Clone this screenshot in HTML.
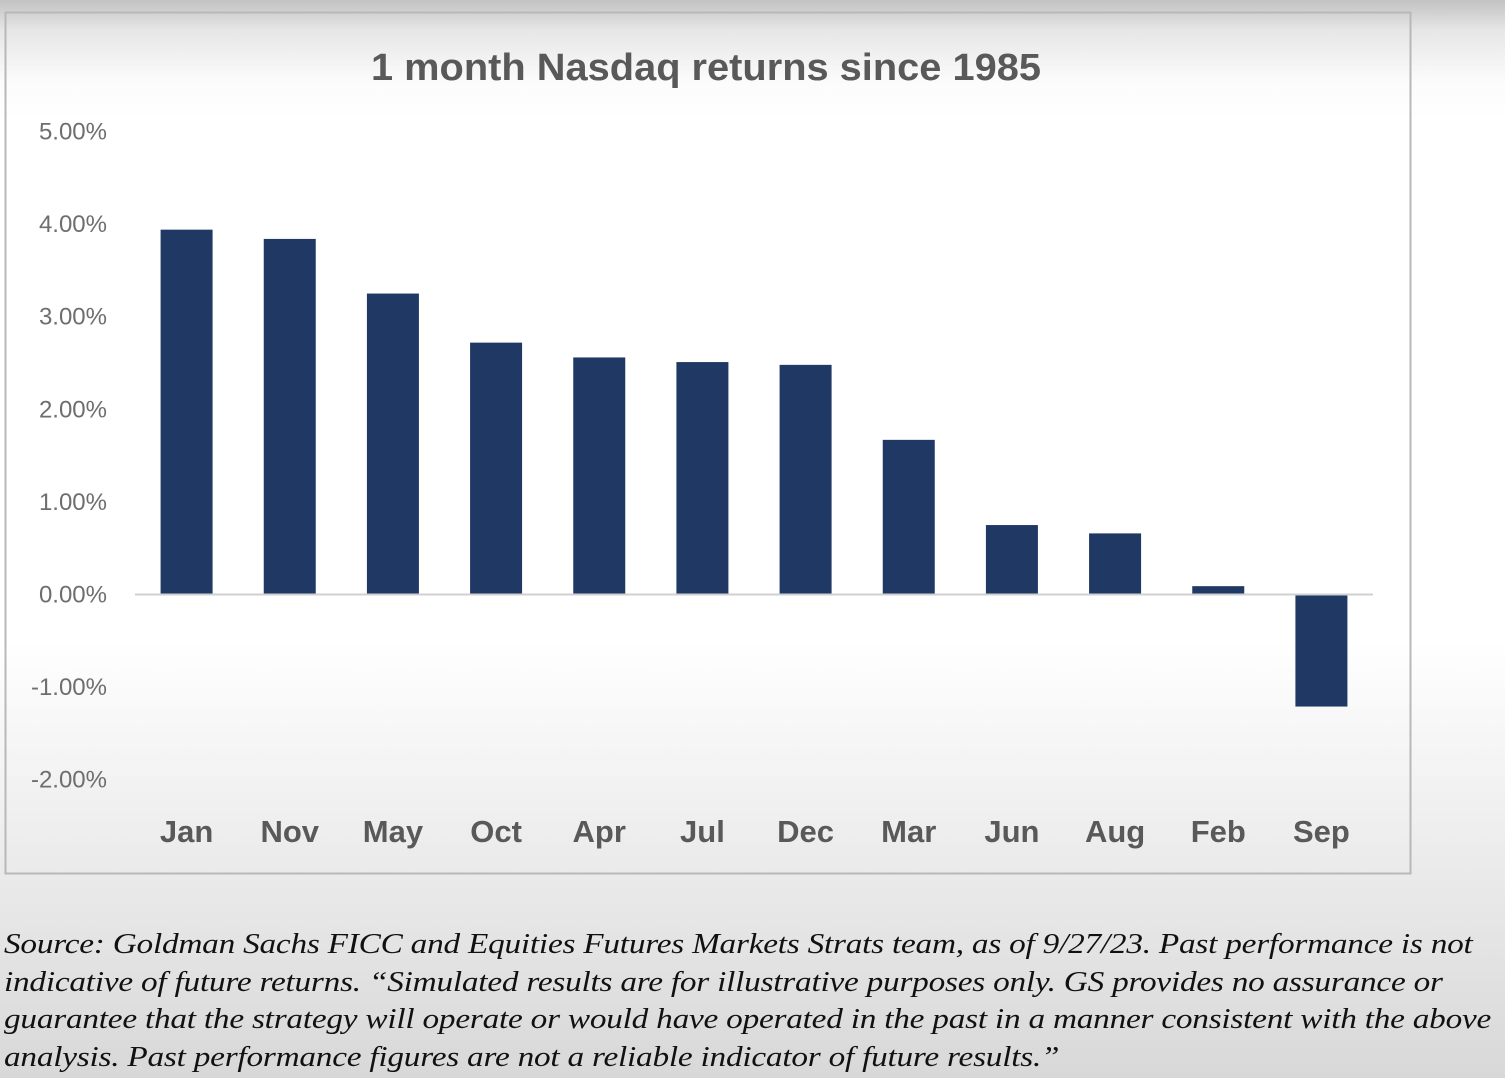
<!DOCTYPE html>
<html><head><meta charset="utf-8"><style>
html,body{margin:0;padding:0;}
body{width:1505px;height:1078px;overflow:hidden;position:relative;font-family:"Liberation Sans",sans-serif;
background:linear-gradient(to bottom,#c2c2c2 0px,#e6e6e6 30px,#fbfbfb 80px,#ffffff 120px,#ffffff 640px,#ececec 850px,#d8d8d8 1078px);}
#chart{position:absolute;left:0;top:0;}
#note{position:absolute;left:4px;top:926px;width:1300px;font-family:"Liberation Serif",serif;font-style:italic;font-size:28.5px;line-height:37.5px;color:#111;letter-spacing:-0.2px;white-space:nowrap;transform:scaleX(1.168);transform-origin:0 0;}
</style></head><body>
<svg id="chart" width="1505" height="900" xmlns="http://www.w3.org/2000/svg">
<rect x="5.5" y="12.5" width="1405" height="861" fill="none" stroke="#b8b8b8" stroke-width="2"/>
<text x="371" y="80" textLength="670" lengthAdjust="spacingAndGlyphs" font-family="Liberation Sans, sans-serif" font-weight="bold" font-size="38" fill="#595959">1 month Nasdaq returns since 1985</text>
<g id="yticks"></g><g id="bars"></g>
<line x1="135" y1="594.5" x2="1373" y2="594.5" stroke="#d0d0d0" stroke-width="2"/>
<g id="xlabels"></g>
</svg>
<div id="note">Source: Goldman Sachs FICC and Equities Futures Markets Strats team, as of 9/27/23. Past performance is not<br>indicative of future returns. “Simulated results are for illustrative purposes only. GS provides no assurance or<br>guarantee that the strategy will operate or would have operated in the past in a manner consistent with the above<br>analysis. Past performance figures are not a reliable indicator of future results.”</div>
<script>
const categories=["Jan","Nov","May","Oct","Apr","Jul","Dec","Mar","Jun","Aug","Feb","Sep"];
const values=[3.94,3.84,3.25,2.72,2.56,2.51,2.48,1.67,0.75,0.66,0.09,-1.21];
const tickValues=[5,4,3,2,1,0,-1,-2];
const tickLabels=["5.00%","4.00%","3.00%","2.00%","1.00%","0.00%","-1.00%","-2.00%"];
const NS="http://www.w3.org/2000/svg";
const y0=594.5,pxPer=92.6,x0=135,step=(1373-135)/12,bw=52;
const yS=v=>y0-v*pxPer;
const xS=i=>x0+step*(i+0.5);
const yt=document.getElementById('yticks');
tickValues.forEach((v,i)=>{const t=document.createElementNS(NS,'text');


t.setAttribute('x',107);t.setAttribute('y',yS(v)+8);t.setAttribute('text-anchor','end');
t.setAttribute('font-size','24');t.setAttribute('fill','#6e6e6e');t.setAttribute('font-family','Liberation Sans, sans-serif');
t.textContent=tickLabels[i];yt.appendChild(t);});
const bg=document.getElementById('bars'),xl=document.getElementById('xlabels');
categories.forEach((c,i)=>{const v=values[i];const r=document.createElementNS(NS,'rect');


r.setAttribute('x',xS(i)-bw/2);r.setAttribute('width',bw);
r.setAttribute('y',Math.min(yS(v),y0));r.setAttribute('height',Math.abs(yS(v)-y0));
r.setAttribute('fill','#1f3864');bg.appendChild(r);
const t=document.createElementNS(NS,'text');


t.setAttribute('x',xS(i));t.setAttribute('y',842);t.setAttribute('text-anchor','middle');
t.setAttribute('font-size','31');t.setAttribute('font-weight','bold');t.setAttribute('fill','#595959');
t.setAttribute('font-family','Liberation Sans, sans-serif');t.textContent=c;xl.appendChild(t);});
</script>
</body></html>
